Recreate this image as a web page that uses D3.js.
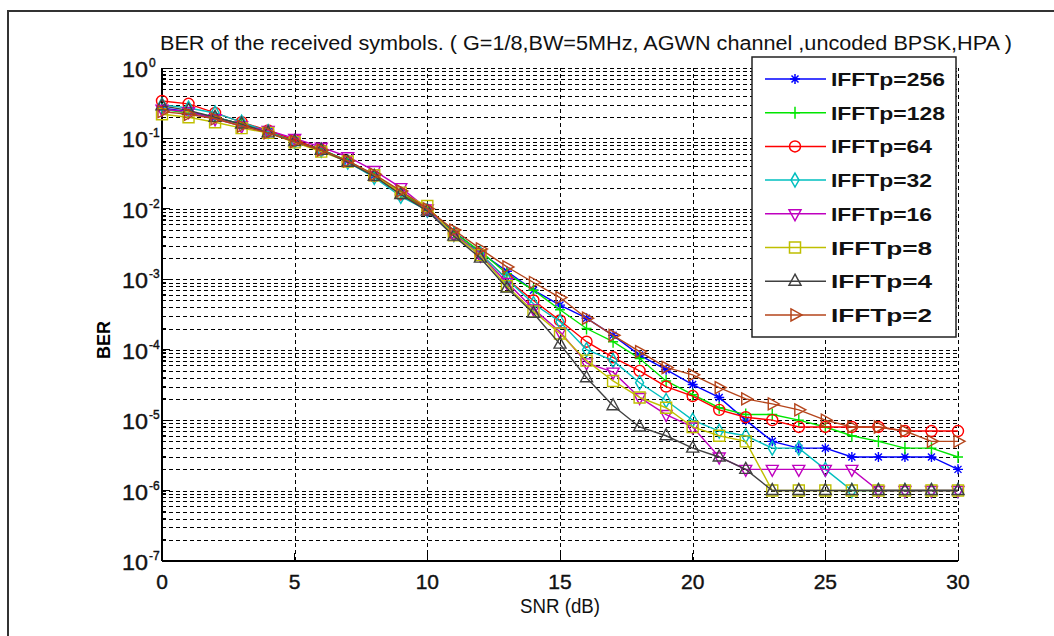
<!DOCTYPE html>
<html lang="en">
<head>
<meta charset="utf-8">
<title>BER of the received symbols</title>
<script src="https://cdn.jsdelivr.net/npm/d3@7/dist/d3.min.js"></script>
<style>
body{margin:0;background:#fff;}
svg{display:block;background:#fff;}
.narrow{font-family:"Liberation Sans Narrow","Arial Narrow","Liberation Sans",Arial,sans-serif;}
.grid line{stroke:#000;stroke-dasharray:4,3;stroke-width:1;shape-rendering:crispEdges;}
.grid path{display:none;}
</style>
</head>
<body>
<div id="chart"></div>
<script>
// x values (SNR in dB)
var snr = [0,1,2,3,4,5,6,7,8,9,10,11,12,13,14,15,16,17,18,19,20,21,22,23,24,25,26,27,28,29,30];

// BER per IFFT size
var ber256 = [0.27,0.24,0.20,0.16,0.125,0.094,0.070,0.048,0.030,0.017,0.0098,0.0048,
  2.4e-3,1.3e-3,7.0e-4,4.3e-4,2.8e-4,1.6e-4,8.4e-5,5.2e-5,3.2e-5,2.1e-5,1.0e-5,5e-6,4e-6,4e-6,3e-6,3e-6,3e-6,3e-6,2e-6];
var ber128 = [0.26,0.23,0.20,0.16,0.125,0.093,0.070,0.048,0.030,0.017,0.0097,0.0046,
  2.5e-3,1.2e-3,7.0e-4,3.7e-4,2.0e-4,1.3e-4,7.5e-5,3.6e-5,2.3e-5,1.5e-5,1.2e-5,1.2e-5,1.0e-5,8e-6,6e-6,5e-6,4e-6,4e-6,3e-6];
var ber64  = [0.34,0.31,0.23,0.17,0.13,0.095,0.069,0.047,0.029,0.016,0.0096,0.0044,
  2.3e-3,1.0e-3,5.0e-4,2.6e-4,1.3e-4,7.8e-5,5.0e-5,3.0e-5,2.2e-5,1.4e-5,1.1e-5,1.0e-5,8e-6,8e-6,8e-6,8e-6,7e-6,7e-6,7e-6];
var ber32  = [0.30,0.27,0.23,0.17,0.125,0.090,0.068,0.046,0.028,0.015,0.0095,0.0043,
  2.3e-3,1.0e-3,4.5e-4,2.5e-4,1.0e-4,7.0e-5,3.4e-5,1.9e-5,1.0e-5,7e-6,6e-6,4e-6,4e-6,2e-6,1e-6,1e-6,1e-6,1e-6,1e-6];
var ber16  = [0.26,0.24,0.19,0.15,0.13,0.100,0.075,0.055,0.035,0.020,0.0100,0.0044,
  2.2e-3,9.0e-4,3.8e-4,1.8e-4,6.5e-5,4.8e-5,2.1e-5,1.2e-5,8e-6,3e-6,2e-6,2e-6,2e-6,2e-6,2e-6,1e-6,1e-6,1e-6,1e-6];
var ber8   = [0.22,0.20,0.17,0.14,0.12,0.088,0.065,0.047,0.030,0.017,0.0110,0.0042,
  2.2e-3,8.0e-4,3.5e-4,1.7e-4,7.0e-5,3.6e-5,2.1e-5,1.5e-5,8e-6,6e-6,5e-6,1e-6,1e-6,1e-6,1e-6,1e-6,1e-6,1e-6,1e-6];
var ber4   = [0.29,0.25,0.20,0.16,0.12,0.090,0.068,0.046,0.029,0.016,0.0093,0.0041,
  2.0e-3,7.5e-4,3.3e-4,1.2e-4,4.0e-5,1.6e-5,8e-6,6e-6,4e-6,3e-6,2e-6,1e-6,1e-6,1e-6,1e-6,1e-6,1e-6,1e-6,1e-6];
var ber2   = [0.24,0.22,0.19,0.15,0.12,0.090,0.068,0.048,0.031,0.018,0.0100,0.0050,
  2.7e-3,1.5e-3,9.0e-4,5.5e-4,2.8e-4,1.6e-4,9.4e-5,5.6e-5,4.4e-5,2.9e-5,2.0e-5,1.7e-5,1.4e-5,1.0e-5,8e-6,8e-6,7e-6,5e-6,5e-6];

var names = ["IFFTp=256","IFFTp=128","IFFTp=64","IFFTp=32","IFFTp=16","IFFTp=8","IFFTp=4","IFFTp=2"];
var xTicks = [0,5,10,15,20,25,30];
var yExps = [0,-1,-2,-3,-4,-5,-6,-7];
var titleText = "BER of the received symbols. ( G=1/8,BW=5MHz, AGWN channel ,uncoded BPSK,HPA )";

var colors = ["#0000ff","#00e600","#ff0000","#00bfbf","#bf00bf","#bfbf00","#404040","#b5451b"];
var markers = ["star","plus","circle","diamond","down","square","up","right"];
var series = [ber256,ber128,ber64,ber32,ber16,ber8,ber4,ber2].map(function(v,i){
  return {name:names[i],values:v,color:colors[i],marker:markers[i]};
});

var W = 1054, H = 636;
var L = 162, R = 958, T = 68, B = 561;

var svg = d3.select("#chart").append("svg")
    .attr("width", W)
    .attr("height", H);

// figure frame
svg.append("path")
    .attr("d","M8,"+H+"V11H"+W)
    .attr("fill","none")
    .attr("stroke","#333")
    .attr("stroke-width",2);

var x = d3.scaleLinear().domain([0,30]).range([L,R]);
var y = d3.scaleLog().domain([1e-7,1]).range([B,T]);

// minor and major log values
var minors = [], majors = [];
yExps.forEach(function(e){ majors.push(Math.pow(10,e)); });
for (var e=-7; e<0; e++) {
  for (var m=2; m<=9; m++) minors.push(m*Math.pow(10,e));
}

// grid
svg.append("g").attr("class","grid")
    .attr("transform","translate("+L+",0)")
    .call(d3.axisLeft(y).tickValues(minors.concat(majors.slice(0,7))).tickSize(-(R-L)).tickFormat(""));
svg.append("g").attr("class","grid")
    .attr("transform","translate(0,"+B+")")
    .call(d3.axisBottom(x).tickValues(xTicks.slice(1)).tickSize(-(B-T)).tickFormat(""));

// axes lines + inner ticks
var ax = svg.append("g").attr("stroke","#000").attr("shape-rendering","crispEdges");
ax.append("line").attr("x1",L).attr("x2",L).attr("y1",T).attr("y2",B).attr("stroke-width",1.5);
ax.append("line").attr("x1",L).attr("x2",R).attr("y1",B).attr("y2",B).attr("stroke-width",1.5);
ax.selectAll(".ymaj").data(majors).enter().append("line")
    .attr("x1",L).attr("x2",L+8).attr("y1",function(d){return y(d);}).attr("y2",function(d){return y(d);});
ax.selectAll(".ymin").data(minors).enter().append("line")
    .attr("x1",L).attr("x2",L+4).attr("y1",function(d){return y(d);}).attr("y2",function(d){return y(d);});
ax.selectAll(".xt").data(xTicks).enter().append("line")
    .attr("x1",function(d){return x(d);}).attr("x2",function(d){return x(d);}).attr("y1",B).attr("y2",B-8);

// y tick labels 10^e
var yl = svg.append("g").attr("class","narrow").attr("fill","#111")
    .attr("stroke","#111").attr("stroke-width",0.4);
yExps.forEach(function(e){
  var yy = y(Math.pow(10,e));
  yl.append("text").attr("x",148).attr("y",yy+9).attr("text-anchor","end")
      .attr("font-size",22).attr("textLength",26).attr("lengthAdjust","spacingAndGlyphs").text("10");
  yl.append("text").attr("x",149).attr("y",yy-1)
      .attr("font-size",12).text(e);
});

// x tick labels
svg.append("g").attr("class","narrow").attr("fill","#111")
    .attr("stroke","#111").attr("stroke-width",0.4)
  .selectAll("text").data(xTicks).enter().append("text")
    .attr("x",function(d){return x(d);}).attr("y",589)
    .attr("text-anchor","middle").attr("font-size",21)
    .text(function(d){return d;});

// axis titles
svg.append("text").attr("class","narrow")
    .attr("x",560).attr("y",613).attr("text-anchor","middle")
    .attr("font-size",20).attr("textLength",80).attr("lengthAdjust","spacingAndGlyphs")
    .attr("fill","#111")
    .text("SNR (dB)");
svg.append("text")
    .attr("transform","translate(110,340) rotate(-90)")
    .attr("text-anchor","middle")
    .attr("font-family","Liberation Sans, Arial, sans-serif")
    .attr("font-weight","bold").attr("font-size",18)
    .text("BER");

// title
svg.append("text").attr("class","narrow")
    .attr("x",160).attr("y",50)
    .attr("font-size",20).attr("textLength",852).attr("lengthAdjust","spacingAndGlyphs")
    .attr("fill","#111")
    .text(titleText);

// marker shapes
function markerPath(t){
  switch(t){
    case "star": return "M-5,0H5M0,-5V5M-3.5,-3.5L3.5,3.5M-3.5,3.5L3.5,-3.5";
    case "plus": return "M-5,0H5M0,-6V6";
    case "circle": return "M5.5,0A5.5,5.5 0 1,1 -5.5,0A5.5,5.5 0 1,1 5.5,0Z";
    case "diamond": return "M0,-7L4,0L0,7L-4,0Z";
    case "down": return "M-6,-4L6,-4L0,7Z";
    case "square": return "M-5.5,-5.5H5.5V5.5H-5.5Z";
    case "up": return "M0,-7L6,4L-6,4Z";
    case "right": return "M-4,-6L7,0L-4,6Z";
  }
}

var line = d3.line()
    .x(function(d,i){return x(snr[i]);})
    .y(function(d){return y(d);});

var sg = svg.selectAll(".series").data(series).enter().append("g").attr("class","series");
sg.append("path")
    .attr("d",function(s){return line(s.values);})
    .attr("fill","none")
    .attr("stroke",function(s){return s.color;})
    .attr("stroke-width",1.4);
sg.each(function(s){
  d3.select(this).selectAll(".mk").data(s.values).enter().append("path")
      .attr("transform",function(d,i){return "translate("+x(snr[i])+","+y(d)+")";})
      .attr("d",markerPath(s.marker))
      .attr("fill","none")
      .attr("stroke",s.color)
      .attr("stroke-width",1.4);
});

// legend
var lg = svg.append("g");
lg.append("rect").attr("x",752).attr("y",57).attr("width",204).attr("height",280)
    .attr("fill","#fff").attr("stroke","#222").attr("stroke-width",1.5);
series.forEach(function(s,i){
  var yy = 79 + i*33.7;
  lg.append("line").attr("x1",765).attr("x2",826).attr("y1",yy).attr("y2",yy)
      .attr("stroke",s.color).attr("stroke-width",1.5);
  lg.append("path").attr("transform","translate(795,"+yy+")")
      .attr("d",markerPath(s.marker)).attr("fill","none")
      .attr("stroke",s.color).attr("stroke-width",1.5);
  lg.append("text").attr("x",831).attr("y",yy+7)
      .attr("font-family","Liberation Sans, Arial, sans-serif")
      .attr("font-weight","bold").attr("font-size",19).attr("fill","#111")
      .attr("textLength",s.name.length>8 ? 114 : 101).attr("lengthAdjust","spacingAndGlyphs")
      .text(s.name);
});
</script>
</body>
</html>
